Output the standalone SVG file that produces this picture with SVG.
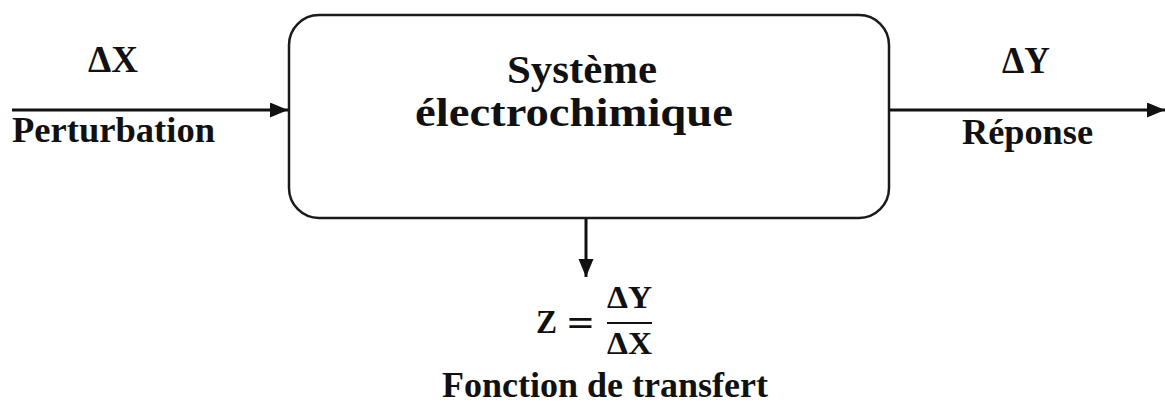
<svg xmlns="http://www.w3.org/2000/svg" width="1165" height="405" viewBox="0 0 1165 405">
<style>
.t{font-family:"Liberation Serif","Times New Roman",serif;font-weight:bold;fill:#111}
.ln{stroke:#111;stroke-width:3;fill:none}
.box{stroke:#1a1a1a;stroke-width:2.5;fill:#fff}
</style>
<defs>
<marker id="ah" markerUnits="userSpaceOnUse" markerWidth="20" markerHeight="16" refX="18" refY="7.5" orient="auto">
<path d="M0,0 L18,7.5 L0,15 Z" fill="#111"/>
</marker>
</defs>
<rect width="1165" height="405" fill="#fff"/>
<g id="connectors">
<line class="ln" x1="12" y1="110" x2="288" y2="110" marker-end="url(#ah)"/>
<line class="ln" x1="889" y1="110" x2="1165" y2="110" marker-end="url(#ah)"/>
<line class="ln" x1="586" y1="218" x2="586" y2="277" marker-end="url(#ah)"/>
</g>
<g id="systeme">
<rect class="box" x="289" y="15" width="600" height="203" rx="30" ry="30"/>
<text class="t" x="507" y="83" font-size="40" textLength="150" lengthAdjust="spacingAndGlyphs">Système</text>
<text class="t" x="415" y="126" font-size="40" textLength="318" lengthAdjust="spacingAndGlyphs">électrochimique</text>
</g>
<g id="entree">
<text class="t" x="88" y="72" font-size="37" textLength="50" lengthAdjust="spacingAndGlyphs">ΔX</text>
<text class="t" x="12" y="142" font-size="36" textLength="203" lengthAdjust="spacingAndGlyphs">Perturbation</text>
</g>
<g id="sortie">
<text class="t" x="1002" y="73" font-size="37" textLength="48" lengthAdjust="spacingAndGlyphs">ΔY</text>
<text class="t" x="962" y="144" font-size="36" textLength="131" lengthAdjust="spacingAndGlyphs">Réponse</text>
</g>
<g id="transfert">
<text class="t" x="536" y="333" font-size="34" textLength="21" lengthAdjust="spacingAndGlyphs">Z</text>
<text class="t" x="567" y="336" font-size="38" textLength="27" lengthAdjust="spacingAndGlyphs">=</text>
<text class="t" x="607" y="308" font-size="31" textLength="45" lengthAdjust="spacingAndGlyphs">ΔY</text>
<line x1="607" y1="323" x2="652" y2="323" stroke="#111" stroke-width="2"/>
<text class="t" x="607" y="354" font-size="31" textLength="45" lengthAdjust="spacingAndGlyphs">ΔX</text>
<text class="t" x="442" y="397" font-size="36" textLength="326" lengthAdjust="spacingAndGlyphs">Fonction de transfert</text>
</g>
</svg>
